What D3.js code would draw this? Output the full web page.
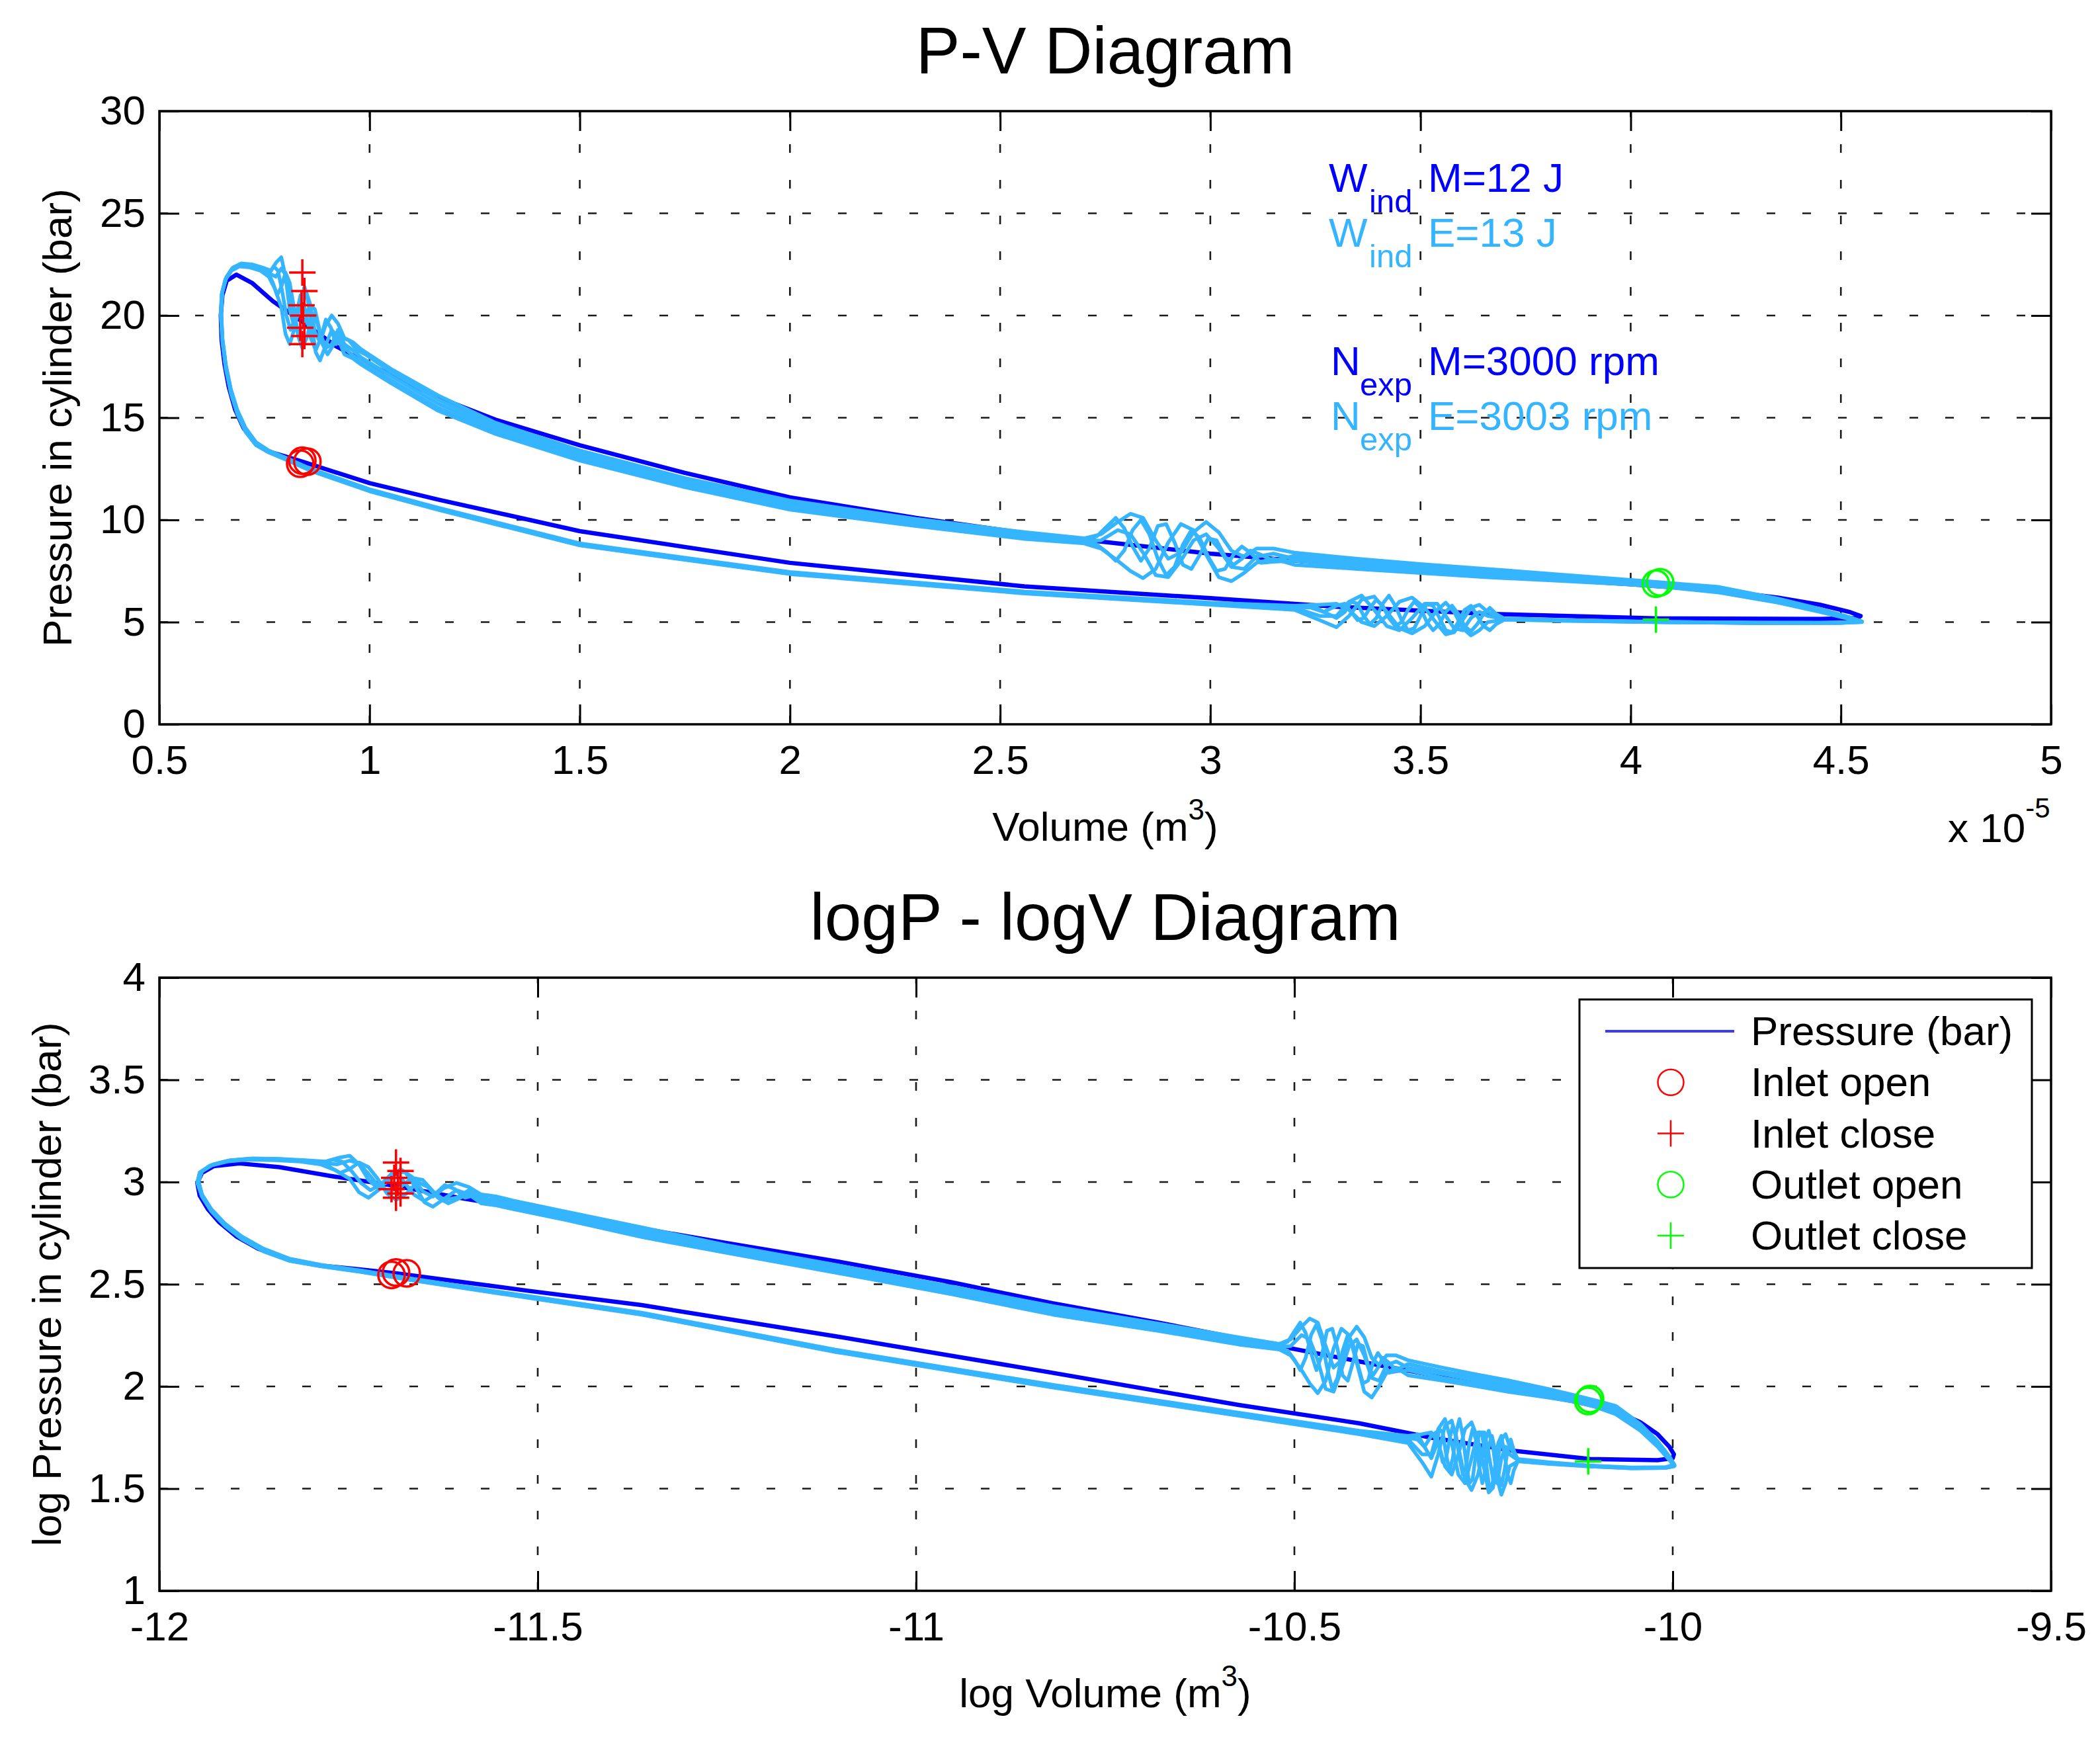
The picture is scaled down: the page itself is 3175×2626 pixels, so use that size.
<!DOCTYPE html>
<html>
<head>
<meta charset="utf-8">
<script src="https://cdn.jsdelivr.net/npm/d3@7"></script>
<style>
  body { margin: 0; background: #fff; }
  text { font-family: "Liberation Sans", Arial, Helvetica, sans-serif; }
</style>
</head>
<body>
<svg id="chart" width="3175" height="2626"></svg>
<script>
// ===== DATA =====
// volume in 1e-5 m^3, pressure in bar
const volTicks = [0.5, 1, 1.5, 2, 2.5, 3, 3.5, 4, 4.5, 5];
const volTickLabels = ["0.5", "1", "1.5", "2", "2.5", "3", "3.5", "4", "4.5", "5"];
const presTicks = [0, 5, 10, 15, 20, 25, 30];
const presTickLabels = ["0", "5", "10", "15", "20", "25", "30"];
const logVolTicks = [-12, -11.5, -11, -10.5, -10, -9.5];
const logVolTickLabels = ["-12", "-11.5", "-11", "-10.5", "-10", "-9.5"];
const logPresTicks = [1, 1.5, 2, 2.5, 3, 3.5, 4];
const logPresTickLabels = ["1", "1.5", "2", "2.5", "3", "3.5", "4"];

// model cycle (dark blue)
const modelCycle = [
  [0.84,12.85],[0.80,13.1],[0.76,13.35],[0.73,13.7],[0.70,14.5],[0.68,15.4],[0.665,16.5],
  [0.655,17.6],[0.648,18.8],[0.646,20.0],[0.65,21.0],[0.66,21.7],[0.683,22.0],[0.72,21.6],
  [0.77,20.7],[0.84,19.7],[0.92,18.5],[1.0,17.6],[1.162,16.0],[1.3,14.9],[1.5,13.65],
  [1.75,12.3],[2.0,11.1],[2.3,10.1],[2.558,9.35],[3.0,8.35],[3.5,7.5],[4.0,6.85],[4.21,6.55],
  [4.35,6.2],[4.45,5.85],[4.52,5.5],[4.547,5.3],[4.54,5.2],[4.45,5.15],[4.07,5.18],[3.67,5.4],
  [3.3,5.75],[3.0,6.17],[2.558,6.75],[2.0,7.9],[1.5,9.45],[1.162,11.0],[1.0,11.8],[0.84,12.85]
];

const expCycleA = [
  [0.86,12.5],[0.80,13.05],[0.76,13.4],[0.73,13.8],[0.705,14.5],[0.685,15.4],[0.67,16.4],
  [0.658,17.6],[0.65,18.9],[0.647,20.2],[0.65,21.2],[0.66,21.9],[0.675,22.35],[0.695,22.55],
  [0.72,22.5],[0.745,22.35],[0.765,22.2],[0.778,22.6],[0.79,22.85],[0.80,21.9],[0.81,20.3],
  [0.82,19.5],[0.832,20.2],[0.845,21.4],[0.858,20.6],[0.87,19.2],[0.882,18.7],[0.895,19.5],
  [0.91,20.0],[0.925,19.6],[0.94,18.9],[0.96,18.7],[0.98,18.35],[1.05,17.4],[1.162,16.1],
  [1.3,14.75],[1.5,13.4],[1.75,12.05],[2.0,10.95],[2.3,10.05],[2.558,9.4],[2.7,9.1],[2.74,9.3],
  [2.78,9.9],[2.81,10.3],[2.84,10.1],[2.87,9.0],[2.9,8.1],[2.93,8.4],[2.96,9.4],[2.99,9.9],
  [3.02,9.4],[3.05,8.5],[3.08,8.2],[3.11,8.6],[3.15,8.6],[3.2,8.4],[3.35,8.1],[3.5,7.84],
  [3.66,7.6],[3.85,7.3],[4.0,7.06],[4.1,6.9],[4.21,6.72],[4.35,6.15],[4.45,5.65],[4.52,5.25],
  [4.55,5.04],[4.5,4.98],[4.3,4.97],[4.06,5.02],[3.85,5.1],[3.7,5.18],[3.66,5.5],[3.64,5.85],
  [3.62,5.7],[3.6,5.1],[3.58,4.5],[3.56,4.4],[3.54,4.9],[3.51,5.7],[3.48,6.2],[3.45,6.0],
  [3.42,5.3],[3.39,4.8],[3.36,5.0],[3.33,5.6],[3.30,5.9],[3.26,5.85],[3.2,5.8],[3.0,5.95],
  [2.558,6.5],[2.0,7.45],[1.5,8.85],[1.162,10.6],[1.0,11.5],[0.86,12.5]
];
const expCycleB = [
  [0.86,12.4],[0.80,12.95],[0.76,13.3],[0.73,13.65],[0.705,14.3],[0.685,15.2],[0.67,16.2],
  [0.658,17.4],[0.65,18.7],[0.646,20.0],[0.648,21.0],[0.657,21.75],[0.672,22.2],[0.69,22.4],
  [0.715,22.35],[0.74,22.2],[0.76,21.9],[0.775,21.3],[0.79,20.4],[0.80,19.1],[0.81,18.6],
  [0.822,19.4],[0.835,20.9],[0.85,21.1],[0.862,19.6],[0.872,18.2],[0.882,17.8],[0.895,18.5],
  [0.91,19.3],[0.925,18.9],[0.94,18.1],[0.96,17.9],[0.98,17.6],[1.05,16.7],[1.162,15.35],
  [1.3,14.2],[1.5,12.9],[1.75,11.6],[2.0,10.5],[2.3,9.7],[2.558,9.07],[2.7,8.85],[2.74,8.6],
  [2.78,8.0],[2.81,7.5],[2.84,7.15],[2.87,7.6],[2.9,8.9],[2.93,9.8],[2.96,9.5],[2.99,8.3],
  [3.02,7.2],[3.05,7.0],[3.08,7.4],[3.11,7.9],[3.15,8.1],[3.2,7.8],[3.35,7.6],[3.5,7.4],
  [3.66,7.19],[3.85,7.0],[4.0,6.84],[4.1,6.68],[4.21,6.45],[4.35,5.95],[4.45,5.5],[4.52,5.15],
  [4.55,5.0],[4.5,4.96],[4.3,4.95],[4.06,5.0],[3.85,5.06],[3.7,5.12],[3.66,5.0],[3.64,4.6],
  [3.62,4.35],[3.6,4.7],[3.58,5.5],[3.56,5.95],[3.54,5.6],[3.51,4.8],[3.48,4.45],[3.45,4.7],
  [3.42,5.5],[3.39,6.25],[3.36,6.1],[3.33,5.3],[3.30,4.75],[3.26,5.1],[3.2,5.6],[3.0,5.85],
  [2.558,6.4],[2.0,7.35],[1.5,8.75],[1.162,10.5],[1.0,11.4],[0.86,12.4]
];
const expCycleC = [
  [0.86,12.45],[0.80,13.0],[0.76,13.35],[0.73,13.75],[0.705,14.4],[0.685,15.3],[0.67,16.3],
  [0.658,17.5],[0.65,18.8],[0.647,20.1],[0.649,21.1],[0.658,21.8],[0.673,22.3],[0.692,22.5],
  [0.718,22.45],[0.742,22.3],[0.762,22.05],[0.777,21.9],[0.79,22.3],[0.80,22.0],[0.81,20.9],
  [0.82,19.8],[0.832,19.2],[0.845,19.6],[0.858,20.5],[0.87,20.3],[0.882,19.2],[0.895,18.4],
  [0.91,18.6],[0.925,19.3],[0.94,18.6],[0.96,18.3],[0.98,17.95],[1.05,17.05],[1.162,15.7],
  [1.3,14.45],[1.5,13.15],[1.75,11.85],[2.0,10.7],[2.3,9.85],[2.558,9.22],[2.7,8.97],[2.74,9.0],
  [2.78,9.5],[2.81,9.3],[2.84,8.4],[2.87,7.3],[2.9,7.2],[2.93,8.0],[2.96,9.0],[2.99,9.3],
  [3.02,8.6],[3.05,7.7],[3.08,7.6],[3.11,8.2],[3.15,8.35],[3.2,8.1],[3.35,7.85],[3.5,7.62],
  [3.66,7.4],[3.85,7.15],[4.0,6.95],[4.1,6.8],[4.21,6.58],[4.35,6.05],[4.45,5.58],[4.52,5.2],
  [4.55,5.02],[4.5,4.97],[4.3,4.96],[4.06,5.01],[3.85,5.08],[3.7,5.15],[3.66,5.3],[3.64,5.5],
  [3.62,5.2],[3.6,4.6],[3.58,4.7],[3.56,5.3],[3.54,5.9],[3.51,5.9],[3.48,5.2],[3.45,4.6],
  [3.42,4.8],[3.39,5.6],[3.36,6.3],[3.33,6.0],[3.30,5.3],[3.26,5.3],[3.2,5.7],[3.0,5.9],
  [2.558,6.45],[2.0,7.4],[1.5,8.8],[1.162,10.55],[1.0,11.45],[0.86,12.45]
];
const expCycleD = [
  [0.86,12.48],[0.80,13.02],[0.76,13.38],[0.73,13.78],[0.705,14.45],[0.685,15.35],[0.67,16.35],
  [0.658,17.55],[0.65,18.85],[0.647,20.15],[0.65,21.15],[0.659,21.85],[0.674,22.32],[0.693,22.52],
  [0.719,22.48],[0.744,22.32],[0.763,22.1],[0.772,22.4],[0.782,22.2],[0.792,21.2],[0.802,20.0],
  [0.812,19.3],[0.824,19.9],[0.836,21.0],[0.848,20.2],[0.86,18.9],[0.872,18.3],[0.884,18.9],
  [0.896,19.8],[0.908,19.4],[0.92,18.6],[0.935,18.9],[0.95,18.8],[0.97,18.3],[0.99,18.1],
  [1.05,17.25],[1.162,15.9],[1.3,14.6],[1.5,13.3],[1.75,11.95],[2.0,10.82],[2.3,9.95],[2.558,9.3],
  [2.7,9.03],[2.73,9.2],[2.755,9.7],[2.775,10.1],[2.795,9.6],[2.815,8.7],[2.835,8.0],[2.855,8.6],
  [2.875,9.7],[2.895,9.8],[2.915,8.9],[2.935,7.8],[2.955,7.6],[2.975,8.3],[2.995,9.1],[3.015,9.0],
  [3.035,8.2],[3.055,7.8],[3.075,8.1],[3.095,8.5],[3.12,8.3],[3.15,8.0],[3.2,8.25],[3.35,7.95],
  [3.5,7.72],[3.66,7.5],[3.85,7.22],[4.0,7.0],[4.1,6.85],[4.21,6.65],[4.35,6.1],[4.45,5.62],
  [4.52,5.22],[4.55,5.03],[4.5,4.97],[4.3,4.96],[4.06,5.01],[3.85,5.09],[3.7,5.16],[3.68,5.4],
  [3.665,5.7],[3.65,5.4],[3.635,4.9],[3.62,4.55],[3.605,4.8],[3.59,5.4],[3.575,5.8],[3.56,5.5],
  [3.545,4.9],[3.53,4.6],[3.515,5.0],[3.5,5.7],[3.485,6.0],[3.47,5.6],[3.455,5.0],[3.44,4.8],
  [3.425,5.2],[3.41,5.8],[3.395,6.1],[3.38,5.7],[3.365,5.2],[3.35,5.1],[3.335,5.5],[3.32,5.9],
  [3.3,5.8],[3.27,5.5],[3.24,5.7],[3.2,5.75],[3.0,5.92],[2.558,6.47],[2.0,7.42],[1.5,8.82],
  [1.162,10.57],[1.0,11.47],[0.86,12.48]
];
const expCycleE = [
  [0.86,12.42],[0.80,12.97],[0.76,13.32],[0.73,13.7],[0.705,14.35],[0.685,15.25],[0.67,16.25],
  [0.658,17.45],[0.65,18.75],[0.646,20.05],[0.648,21.05],[0.657,21.78],[0.672,22.25],[0.691,22.45],
  [0.716,22.4],[0.741,22.25],[0.761,22.0],[0.77,21.6],[0.78,21.0],[0.79,21.4],[0.80,22.1],
  [0.81,21.6],[0.82,20.4],[0.83,19.0],[0.84,18.4],[0.852,19.0],[0.864,20.1],[0.876,19.6],
  [0.888,18.6],[0.9,18.1],[0.912,18.5],[0.925,19.0],[0.94,18.4],[0.96,18.05],[0.98,17.75],
  [1.05,16.85],[1.162,15.5],[1.3,14.3],[1.5,13.0],[1.75,11.7],[2.0,10.6],[2.3,9.78],[2.558,9.15],
  [2.7,8.9],[2.73,8.8],[2.755,8.4],[2.775,8.0],[2.795,8.5],[2.815,9.5],[2.835,10.0],[2.855,9.3],
  [2.875,8.1],[2.895,7.3],[2.915,7.7],[2.935,8.8],[2.955,9.5],[2.975,9.1],[2.995,8.2],[3.015,7.5],
  [3.035,7.6],[3.055,8.3],[3.075,8.7],[3.095,8.4],[3.12,7.9],[3.15,7.95],[3.2,8.0],[3.35,7.7],
  [3.5,7.5],[3.66,7.3],[3.85,7.08],[4.0,6.9],[4.1,6.74],[4.21,6.52],[4.35,6.0],[4.45,5.54],
  [4.52,5.17],[4.55,5.01],[4.5,4.96],[4.3,4.95],[4.06,5.0],[3.85,5.07],[3.7,5.13],[3.68,4.9],
  [3.665,4.6],[3.65,4.8],[3.635,5.3],[3.62,5.8],[3.605,5.6],[3.59,5.0],[3.575,4.5],[3.56,4.6],
  [3.545,5.2],[3.53,5.8],[3.515,5.9],[3.5,5.3],[3.485,4.7],[3.47,4.6],[3.455,5.1],[3.44,5.8],
  [3.425,6.3],[3.41,5.9],[3.395,5.2],[3.38,4.9],[3.365,5.3],[3.35,5.9],[3.335,6.0],[3.32,5.5],
  [3.3,5.2],[3.27,5.5],[3.24,5.85],[3.2,5.65],[3.0,5.87],[2.558,6.42],[2.0,7.37],[1.5,8.77],
  [1.162,10.52],[1.0,11.42],[0.86,12.42]
];

// valve events
const inletOpen = [[0.835,12.75],[0.84,12.9],[0.852,12.85]];
const inletClose = [[0.84,22.1],[0.845,21.2],[0.838,20.5],[0.842,20.0],[0.835,19.4],[0.845,19.0],[0.84,18.6]];
const outletOpen = [[4.06,6.88],[4.07,6.95]];
const outletClose = [[4.06,5.12]];

const legendLabels = ["Pressure (bar)", "Inlet open", "Inlet close", "Outlet open", "Outlet close"];
const annoMain = ["W", "W", "N", "N"];
const annoSub = ["ind", "ind", "exp", "exp"];
const annoText = ["M=12 J", "E=13 J", "M=3000 rpm", "E=3003 rpm"];

// ===== STYLE =====
const C_MODEL = "#0000ff", C_EXP = "#35b5ff", C_RED = "#ff0000", C_GREEN = "#00ff00";
const W = 2860, H = 927, LEFT = 241;
const svg = d3.select("#chart");

function markerPath(kind, s) {
  return kind === "plus" ? `M${-s},0H${s}M0,${-s}V${s}` : null;
}

function drawMarkers(g, pts, kind, color, x, y, vx) {
  pts.forEach(d => {
    if (kind === "circle") {
      g.append("circle").attr("cx", x(vx(d[0]))).attr("cy", y(d[1])).attr("r", 20)
        .attr("fill", "none").attr("stroke", color).attr("stroke-width", 3.5);
    } else {
      g.append("path").attr("transform", `translate(${x(vx(d[0]))},${y(d[1])})`)
        .attr("d", markerPath("plus", 20)).attr("stroke", color).attr("stroke-width", 3.5);
    }
  });
}

// ===== PANEL =====
function drawPanel(opt) {
  const g = svg.append("g").attr("transform", `translate(${LEFT},${opt.top})`);
  const x = opt.x, y = opt.y, vx = opt.vx;

  // dotted grid
  const grid = g.append("g").attr("stroke", "#1a1a1a").attr("stroke-width", 2.6)
    .attr("stroke-dasharray", "13,41");
  opt.xTickVals.slice(1, -1).forEach(v => {
    grid.append("line").attr("x1", x(v)).attr("x2", x(v)).attr("y1", H).attr("y2", 0);
  });
  opt.yTickVals.slice(1, -1).forEach(v => {
    grid.append("line").attr("x1", 0).attr("x2", W).attr("y1", y(v)).attr("y2", y(v));
  });

  // axes with inward ticks
  const styleAxis = sel => {
    sel.select(".domain").remove();
    sel.attr("font-size", 62).attr("font-family", "Liberation Sans, Arial, sans-serif");
    sel.selectAll("line").attr("stroke", "#000").attr("stroke-width", 3);
    sel.selectAll("text").attr("fill", "#000");
  };
  g.append("g").attr("transform", `translate(0,${H})`)
    .call(d3.axisBottom(x).tickValues(opt.xTickVals).tickFormat((d, i) => opt.xTickLabels[i])
      .tickSizeInner(-30).tickSizeOuter(0).tickPadding(31))
    .call(styleAxis);
  g.append("g")
    .call(d3.axisTop(x).tickValues(opt.xTickVals).tickFormat("").tickSizeInner(-30).tickSizeOuter(0))
    .call(styleAxis);
  g.append("g")
    .call(d3.axisLeft(y).tickValues(opt.yTickVals).tickFormat((d, i) => opt.yTickLabels[i])
      .tickSizeInner(-30).tickSizeOuter(0).tickPadding(21))
    .call(styleAxis);
  g.append("g").attr("transform", `translate(${W},0)`)
    .call(d3.axisRight(y).tickValues(opt.yTickVals).tickFormat("").tickSizeInner(-30).tickSizeOuter(0))
    .call(styleAxis);

  // curves
  const line = d3.line().x(d => x(vx(d[0]))).y(d => y(d[1]));
  g.append("path").datum(modelCycle).attr("d", line).attr("fill", "none")
    .attr("stroke", C_MODEL).attr("stroke-width", 6.5).attr("stroke-linejoin", "round");
  [expCycleA, expCycleD, expCycleC, expCycleE, expCycleB].forEach(cyc => {
    g.append("path").datum(cyc).attr("d", line).attr("fill", "none")
      .attr("stroke", C_EXP).attr("stroke-width", 5.5).attr("stroke-linejoin", "round");
  });

  // valve markers
  drawMarkers(g, inletOpen, "circle", C_RED, x, y, vx);
  drawMarkers(g, inletClose, "plus", C_RED, x, y, vx);
  drawMarkers(g, outletOpen, "circle", C_GREEN, x, y, vx);
  drawMarkers(g, outletClose, "plus", C_GREEN, x, y, vx);

  // box
  g.append("rect").attr("width", W).attr("height", H).attr("fill", "none")
    .attr("stroke", "#000").attr("stroke-width", 3.5);

  // title
  g.append("text").attr("x", W / 2).attr("y", -57).attr("text-anchor", "middle")
    .attr("font-size", 100).text(opt.title);

  // x label with superscript
  const xl = g.append("text").attr("x", W / 2).attr("y", H + 176)
    .attr("text-anchor", "middle").attr("font-size", 62);
  xl.append("tspan").text(opt.xLabel + " (m");
  xl.append("tspan").attr("font-size", 44).attr("dy", -32).text("3");
  xl.append("tspan").attr("dy", 32).text(")");

  // y label
  g.append("text").attr("transform", `translate(${opt.yLabelX - LEFT},${H / 2}) rotate(-90)`)
    .attr("text-anchor", "middle").attr("font-size", 62).text(opt.yLabel);

  return g;
}

// ===== TOP: P-V =====
const xPV = d3.scaleLinear().domain([0.5, 5]).range([0, W]);
const yPV = d3.scaleLinear().domain([0, 30]).range([H, 0]);
const gTop = drawPanel({
  top: 168, x: xPV, y: yPV, vx: v => v,
  xTickVals: volTicks, xTickLabels: volTickLabels,
  yTickVals: presTicks, yTickLabels: presTickLabels,
  title: "P-V Diagram", xLabel: "Volume", yLabel: "Pressure in cylinder (bar)", yLabelX: 108
});

// exponent note
const expo = gTop.append("text").attr("x", 2945 - LEFT).attr("y", 1273 - 168).attr("font-size", 62);
expo.append("tspan").text("x 10");
expo.append("tspan").attr("font-size", 42).attr("dy", -37).text("-5");

// work / speed annotations
const annoColors = [C_MODEL, C_EXP, C_MODEL, C_EXP];
const annoBase = [290, 373, 567, 650];
const annoSubX = [2070, 2070, 2056, 2056];
annoMain.forEach((m, i) => {
  const yb = annoBase[i] - 168;
  gTop.append("text").attr("x", (i < 2 ? 2009 : 2012) - LEFT).attr("y", yb)
    .attr("font-size", 62).attr("fill", annoColors[i]).text(m);
  gTop.append("text").attr("x", annoSubX[i] - LEFT).attr("y", yb + 31)
    .attr("font-size", 49).attr("fill", annoColors[i]).text(annoSub[i]);
  gTop.append("text").attr("x", 2159 - LEFT).attr("y", yb)
    .attr("font-size", 62).attr("fill", annoColors[i]).text(annoText[i]);
});

// ===== BOTTOM: logP - logV (natural log) =====
const xLog = d3.scaleLog().base(Math.E).domain([Math.exp(-12), Math.exp(-9.5)]).range([0, W]);
const yLog = d3.scaleLog().base(Math.E).domain([Math.exp(1), Math.exp(4)]).range([H, 0]);
const gBot = drawPanel({
  top: 1478, x: xLog, y: yLog, vx: v => v * 1e-5,
  xTickVals: logVolTicks.map(Math.exp), xTickLabels: logVolTickLabels,
  yTickVals: logPresTicks.map(Math.exp), yTickLabels: logPresTickLabels,
  title: "logP - logV Diagram", xLabel: "log Volume", yLabel: "log Pressure in cylinder (bar)", yLabelX: 92
});

// legend
const lg = gBot.append("g").attr("transform", `translate(${2388 - LEFT},${1511 - 1478})`);
lg.append("rect").attr("width", 684).attr("height", 406).attr("fill", "#fff")
  .attr("stroke", "#000").attr("stroke-width", 3);
const legendKinds = ["line", "circle", "plus", "circle", "plus"];
const legendColors = ["#3a3aff", C_RED, C_RED, C_GREEN, C_GREEN];
legendLabels.forEach((lab, i) => {
  const cy = 48 + i * 77.25;
  if (legendKinds[i] === "line") {
    lg.append("line").attr("x1", 39).attr("x2", 234).attr("y1", cy).attr("y2", cy)
      .attr("stroke", legendColors[i]).attr("stroke-width", 4);
  } else if (legendKinds[i] === "circle") {
    lg.append("circle").attr("cx", 138).attr("cy", cy).attr("r", 19.5).attr("fill", "none")
      .attr("stroke", legendColors[i]).attr("stroke-width", 2.5);
  } else {
    lg.append("path").attr("transform", `translate(138,${cy})`).attr("d", markerPath("plus", 20))
      .attr("stroke", legendColors[i]).attr("stroke-width", 2.5);
  }
  lg.append("text").attr("x", 259).attr("y", cy + 21).attr("font-size", 62).text(lab);
});
</script>
</body>
</html>
